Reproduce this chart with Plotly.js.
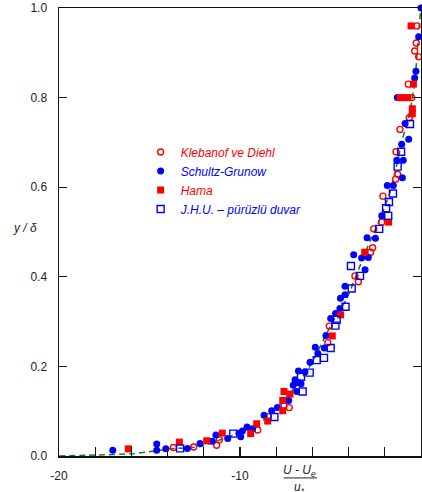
<!DOCTYPE html>
<html>
<head>
<meta charset="utf-8">
<script src="https://cdn.plot.ly/plotly-3.0.1.min.js"></script>
<style>html,body{margin:0;padding:0;background:#fff;}#chart{width:422px;height:492px;}</style>
</head>
<body>
<div id="chart"></div>
<script>
// Klebanof ve Diehl (red open circles)
const klebX = [-0.22,-0.26,-0.35,-0.13,-0.70,-0.51,-0.65,-1.16,-1.38,-1.29,-1.40,-2.10,-2.17,-2.61,-2.67,-2.78,-3.65,-3.46,-5.07,-5.15,-7.57,-7.28,-8.44,-9.02,-11.14,-11.29,-12.56,-13.68];
const klebY = [0.960,0.922,0.904,0.891,0.830,0.800,0.755,0.729,0.679,0.629,0.618,0.580,0.522,0.507,0.465,0.455,0.402,0.389,0.290,0.253,0.112,0.108,0.088,0.058,0.036,0.024,0.020,0.019];
// Schultz-Grunow (blue filled circles)
const schX = [0,-0.13,-0.28,-0.35,-1.31,-0.88,-0.68,-1.07,-1.34,-0.98,-1.03,-1.86,-1.53,-2.17,-2.98,-2.52,-3.72,-3.28,-2.91,-3.09,-4.20,-4.20,-4.45,-4.48,-4.72,-4.99,-5.25,-5.84,-5.34,-5.70,-6.13,-6.77,-6.41,-6.96,-6.81,-6.63,-7.06,-6.87,-7.31,-7.94,-8.25,-8.67,-9.30,-9.61,-9.87,-9.96,-10.06,-10.68,-11.33,-11.53,-12.21,-12.91,-14.10,-14.60,-14.60,-17.03];
const schY = [1.000,0.936,0.859,0.844,0.800,0.742,0.707,0.696,0.660,0.660,0.621,0.604,0.604,0.536,0.487,0.486,0.449,0.442,0.443,0.416,0.379,0.360,0.352,0.329,0.318,0.307,0.269,0.243,0.241,0.229,0.209,0.190,0.188,0.170,0.164,0.161,0.158,0.144,0.124,0.108,0.101,0.091,0.061,0.065,0.056,0.043,0.051,0.039,0.047,0.033,0.028,0.017,0.016,0.027,0.013,0.013];
// Hama (red filled squares)
const hamaX = [-0.55,-0.42,-1.16,-0.99,-0.72,-0.48,-0.48,-1.79,-3.11,-4.44,-4.90,-7.57,-7.24,-7.64,-7.64,-8.47,-9.08,-9.41,-10.98,-11.84,-13.35,-16.17];
const hamaY = [0.960,0.830,0.800,0.800,0.800,0.775,0.764,0.522,0.455,0.315,0.268,0.144,0.138,0.124,0.101,0.078,0.072,0.050,0.051,0.034,0.031,0.016];
// J.H.U. - rough wall (blue open squares)
const jhuX = [-0.61,-1.10,-1.29,-1.55,-1.77,-1.93,-1.81,-2.31,-3.87,-3.37,-3.83,-4.17,-4.66,-4.73,-4.99,-5.36,-5.76,-6.15,-6.63,-6.54,-8.10,-10.37,-13.31];
const jhuY = [0.741,0.679,0.646,0.586,0.567,0.553,0.536,0.507,0.424,0.402,0.374,0.333,0.304,0.291,0.241,0.219,0.214,0.186,0.177,0.144,0.087,0.050,0.017];
// green dashed reference curve
const curveX = [-20,-18,-16,-14.7,-13.9,-12.2,-10.9,-10,-8.7,-8,-7,-6.1,-5,-4.1,-3,-2.2,-1.7,-1,-0.6,-0.33,-0.15,0];
const curveY = [0,0.002,0.005,0.011,0.016,0.021,0.039,0.052,0.080,0.106,0.152,0.203,0.290,0.352,0.462,0.536,0.590,0.710,0.772,0.839,0.940,1.0];

const names = [
  '<span style="color:#ff0000">Klebanof ve Diehl</span>',
  '<span style="color:#0000ff">Schultz-Grunow</span>',
  '<span style="color:#ff0000">Hama</span>',
  '<span style="color:#0000ff">J.H.U. – pürüzlü duvar</span>'
];
const xTicks = [-20,-18,-16,-14,-12,-10,-8,-6,-4,-2,0];
const xTickText = ['-20','','','','','-10','','','','','0'];
const yTicks = [0,0.2,0.4,0.6,0.8,1.0];
const yTickText = ['0.0','0.2','0.4','0.6','0.8','1.0'];

const red = '#ff0000', blue = '#0000ff';
const traces = [
  {x:curveX, y:curveY, mode:'lines', line:{color:'#167a16', width:1.5, dash:'6px,4px', shape:'spline', smoothing:0.6}, showlegend:false, hoverinfo:'skip'},
  {x:klebX, y:klebY, mode:'markers', name:names[0], marker:{symbol:'circle-open', size:6, color:red, line:{width:1.4, color:red}}, cliponaxis:false},
  {x:schX, y:schY, mode:'markers', name:names[1], marker:{symbol:'circle', size:7, color:blue}, cliponaxis:false},
  {x:hamaX, y:hamaY, mode:'markers', name:names[2], marker:{symbol:'square', size:7, color:red}, cliponaxis:false},
  {x:jhuX, y:jhuY, mode:'markers', name:names[3], marker:{symbol:'square-open', size:7, color:blue, line:{width:1.4, color:blue}}, cliponaxis:false}
];

const axisCommon = {showline:true, linecolor:'#111', linewidth:1.5, showgrid:false, zeroline:false, ticks:'inside', tickcolor:'#111', tickwidth:1.3, ticklabelstandoff:8};
const layout = {
  width:422, height:492,
  margin:{l:59, r:1, t:8, b:36, pad:0},
  paper_bgcolor:'#fff', plot_bgcolor:'#fff',
  font:{family:'"Liberation Sans", Arial, Helvetica, sans-serif', size:12, color:'#222'},
  xaxis:Object.assign({}, axisCommon, {range:[-20,0], tickmode:'array', tickvals:xTicks, ticktext:xTickText, ticklen:9, mirror:true}),
  yaxis:Object.assign({}, axisCommon, {range:[0,1], tickmode:'array', tickvals:yTicks, ticktext:yTickText, ticklen:8, mirror:'ticks'}),
  showlegend:true,
  legend:{x:0.2255, y:0.711, xanchor:'left', yanchor:'top', bgcolor:'rgba(0,0,0,0)', borderwidth:0, font:{size:12, style:'italic', family:'"Liberation Sans", Arial, sans-serif'}},
  annotations:[
    {xref:'x', yref:'paper', x:-6.69, y:-0.033, text:'<i>U - U<sub>e</sub></i>', showarrow:false, xanchor:'center', yanchor:'middle', font:{size:12, color:'#222'}},
    {xref:'x', yref:'paper', x:-6.69, y:-0.072, text:'<i>u<sub>*</sub></i>', showarrow:false, xanchor:'center', yanchor:'middle', font:{size:12, color:'#222'}},
    {xref:'paper', yref:'paper', x:-0.094, y:0.509, text:'<i>y / δ</i>', showarrow:false, xanchor:'center', yanchor:'middle', font:{size:12, color:'#222'}}
  ],
  shapes:[
    {type:'line', xref:'x', yref:'paper', x0:-7.59, x1:-5.75, y0:-0.049, y1:-0.049, line:{color:'#222', width:1}}
  ]
};
Plotly.newPlot('chart', traces, layout, {displayModeBar:false, staticPlot:true});
</script>
</body>
</html>
